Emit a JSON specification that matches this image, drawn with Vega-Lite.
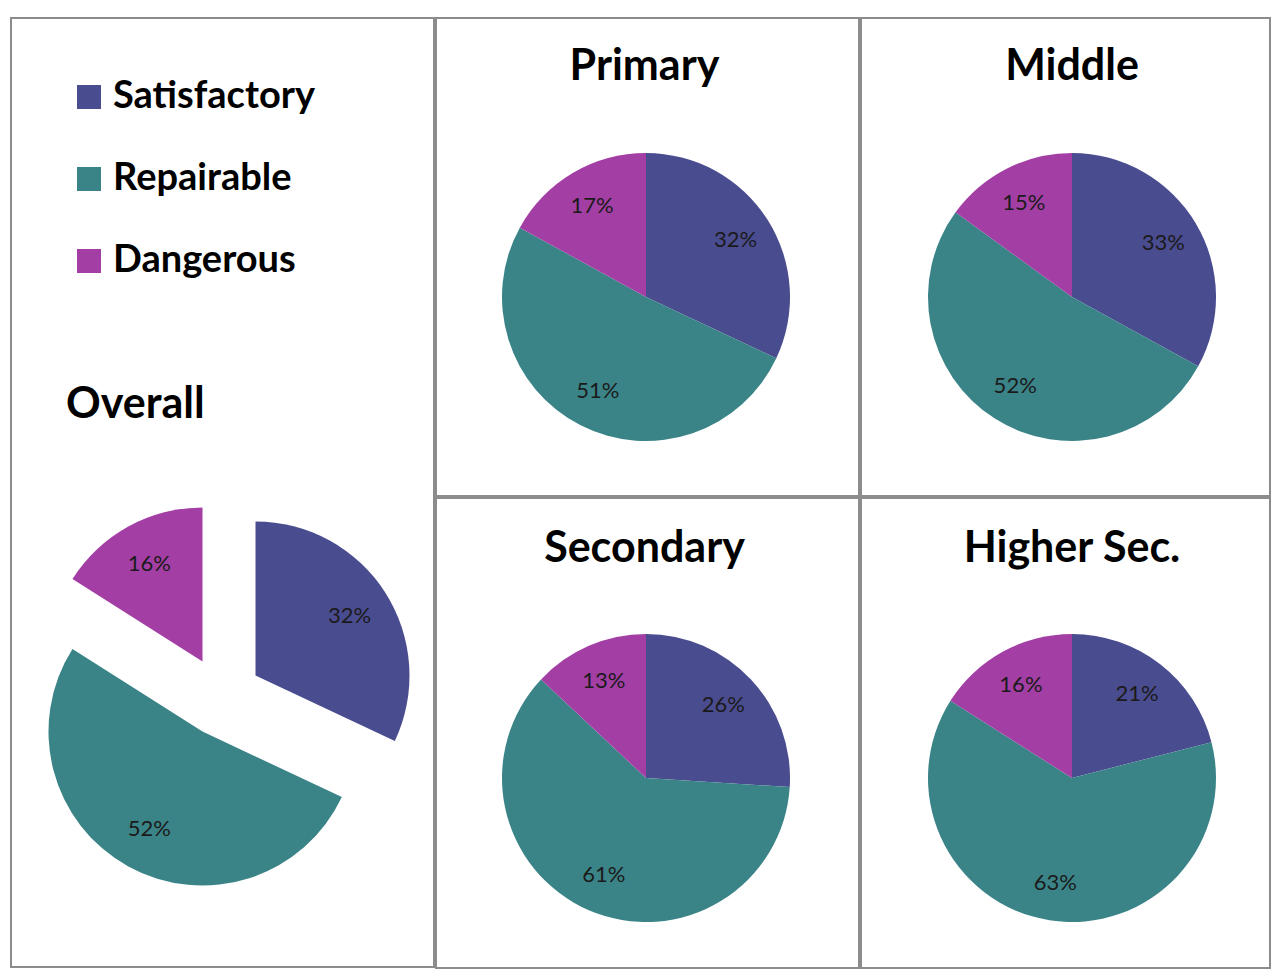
{
  "$schema": "https://vega.github.io/schema/vega-lite/v6.json",
  "background": "white",
  "padding": {"left": 10, "top": 17, "right": 0, "bottom": 0},
  "config": {
    "view": {"stroke": "#8c8c8c", "strokeWidth": 2},
    "concat": {"spacing": 0},
    "title": {"font": "Lato", "fontWeight": "bold", "fontSize": 43, "color": "black", "baseline": "alphabetic"},
    "legend": {
      "orient": "none", "legendX": 59, "legendY": 60,
      "symbolType": "square", "symbolSize": 576, "symbolStrokeWidth": 0, "symbolOpacity": 1,
      "labelFont": "Lato", "labelFontWeight": "bold", "labelFontSize": 38, "labelColor": "black",
      "labelOffset": 5, "rowPadding": 44, "padding": 0, "labelLimit": 400
    }
  },
  "datasets": {
    "d": [
      {"level": "Overall", "category": "Satisfactory", "share": 0.32, "k": 1},
      {"level": "Overall", "category": "Repairable", "share": 0.52, "k": 2},
      {"level": "Overall", "category": "Dangerous", "share": 0.16, "k": 3},
      {"level": "Primary", "category": "Satisfactory", "share": 0.32, "k": 1},
      {"level": "Primary", "category": "Repairable", "share": 0.51, "k": 2},
      {"level": "Primary", "category": "Dangerous", "share": 0.17, "k": 3},
      {"level": "Middle", "category": "Satisfactory", "share": 0.33, "k": 1},
      {"level": "Middle", "category": "Repairable", "share": 0.52, "k": 2},
      {"level": "Middle", "category": "Dangerous", "share": 0.15, "k": 3},
      {"level": "Secondary", "category": "Satisfactory", "share": 0.26, "k": 1},
      {"level": "Secondary", "category": "Repairable", "share": 0.61, "k": 2},
      {"level": "Secondary", "category": "Dangerous", "share": 0.13, "k": 3},
      {"level": "Higher Sec.", "category": "Satisfactory", "share": 0.21, "k": 1},
      {"level": "Higher Sec.", "category": "Repairable", "share": 0.63, "k": 2},
      {"level": "Higher Sec.", "category": "Dangerous", "share": 0.16, "k": 3}
    ]
  },
  "data": {"name": "d"},
  "resolve": {"scale": {"color": "shared"}},
  "hconcat": [
    {
      "width": 423,
      "height": 949,
      "view": {"stroke": "#8c8c8c", "strokeWidth": 2},
      "title": {"text": "Overall", "anchor": "start", "dx": 55, "offset": -409},
      "transform": [
        {"filter": "datum.level === 'Overall'"},
        {"stack": "share", "groupby": [], "sort": [{"field": "k", "order": "ascending"}], "as": ["t0", "t1"]}
      ],
      "layer": [
        {
          "transform": [{"filter": "datum.category === 'Satisfactory'"}],
          "mark": {"type": "arc", "outerRadius": 154, "xOffset": 33, "yOffset": 183},
          "encoding": {
            "theta": {"field": "t0", "type": "quantitative", "scale": {"domain": [0, 1]}},
            "theta2": {"field": "t1"},
            "color": {"field": "category", "type": "nominal", "title": null, "scale": {"domain": ["Satisfactory", "Repairable", "Dangerous"], "range": ["#4a4c90", "#3a8488", "#a33fa4"]}}
          }
        },
        {
          "transform": [{"filter": "datum.category === 'Repairable'"}],
          "mark": {"type": "arc", "outerRadius": 154, "xOffset": -20, "yOffset": 239},
          "encoding": {
            "theta": {"field": "t0", "type": "quantitative", "scale": {"domain": [0, 1]}},
            "theta2": {"field": "t1"},
            "color": {"field": "category", "type": "nominal", "title": null, "scale": {"domain": ["Satisfactory", "Repairable", "Dangerous"], "range": ["#4a4c90", "#3a8488", "#a33fa4"]}}
          }
        },
        {
          "transform": [{"filter": "datum.category === 'Dangerous'"}],
          "mark": {"type": "arc", "outerRadius": 154, "xOffset": -20, "yOffset": 169},
          "encoding": {
            "theta": {"field": "t0", "type": "quantitative", "scale": {"domain": [0, 1]}},
            "theta2": {"field": "t1"},
            "color": {"field": "category", "type": "nominal", "title": null, "scale": {"domain": ["Satisfactory", "Repairable", "Dangerous"], "range": ["#4a4c90", "#3a8488", "#a33fa4"]}}
          }
        },
        {
          "mark": {"type": "text", "radius": 151, "xOffset": -0.5, "yOffset": 204, "font": "Lato", "fontSize": 22, "color": "#1a1a1a"},
          "encoding": {
            "theta": {"field": "share", "type": "quantitative", "stack": true, "scale": {"domain": [0, 1]}},
            "order": {"field": "k", "type": "quantitative"},
            "text": {"field": "share", "type": "quantitative", "format": ".0%"}
          }
        }
      ]
    },
    {
      "vconcat": [
        {
          "hconcat": [
            {
              "width": 423, "height": 478,
              "view": {"stroke": "#8c8c8c", "strokeWidth": 2},
              "title": {"text": "Primary", "dx": -3, "offset": -71},
              "transform": [{"filter": "datum.level === 'Primary'"}],
              "encoding": {
                "theta": {"field": "share", "type": "quantitative", "stack": true, "scale": {"domain": [0, 1]}},
                "order": {"field": "k", "type": "quantitative"},
                "color": {"field": "category", "type": "nominal", "title": null, "scale": {"domain": ["Satisfactory", "Repairable", "Dangerous"], "range": ["#4a4c90", "#3a8488", "#a33fa4"]}}
              },
              "layer": [
                {"mark": {"type": "arc", "outerRadius": 144, "xOffset": -1.5, "yOffset": 40}},
                {"mark": {"type": "text", "radius": 106, "xOffset": -1.5, "yOffset": 40, "font": "Lato", "fontSize": 22},
                 "encoding": {"color": {"value": "#1a1a1a"}, "text": {"field": "share", "type": "quantitative", "format": ".0%"}}}
              ]
            },
            {
              "width": 409, "height": 478,
              "view": {"stroke": "#8c8c8c", "strokeWidth": 2},
              "title": {"text": "Middle", "dx": 6.5, "offset": -71},
              "transform": [{"filter": "datum.level === 'Middle'"}],
              "encoding": {
                "theta": {"field": "share", "type": "quantitative", "stack": true, "scale": {"domain": [0, 1]}},
                "order": {"field": "k", "type": "quantitative"},
                "color": {"field": "category", "type": "nominal", "title": null, "scale": {"domain": ["Satisfactory", "Repairable", "Dangerous"], "range": ["#4a4c90", "#3a8488", "#a33fa4"]}}
              },
              "layer": [
                {"mark": {"type": "arc", "outerRadius": 144, "xOffset": 6.5, "yOffset": 40}},
                {"mark": {"type": "text", "radius": 106, "xOffset": 6.5, "yOffset": 40, "font": "Lato", "fontSize": 22},
                 "encoding": {"color": {"value": "#1a1a1a"}, "text": {"field": "share", "type": "quantitative", "format": ".0%"}}}
              ]
            }
          ]
        },
        {
          "hconcat": [
            {
              "width": 423, "height": 470,
              "view": {"stroke": "#8c8c8c", "strokeWidth": 2},
              "title": {"text": "Secondary", "dx": -3, "offset": -73},
              "transform": [{"filter": "datum.level === 'Secondary'"}],
              "encoding": {
                "theta": {"field": "share", "type": "quantitative", "stack": true, "scale": {"domain": [0, 1]}},
                "order": {"field": "k", "type": "quantitative"},
                "color": {"field": "category", "type": "nominal", "title": null, "scale": {"domain": ["Satisfactory", "Repairable", "Dangerous"], "range": ["#4a4c90", "#3a8488", "#a33fa4"]}}
              },
              "layer": [
                {"mark": {"type": "arc", "outerRadius": 144, "xOffset": -1.5, "yOffset": 45}},
                {"mark": {"type": "text", "radius": 106, "xOffset": -1.5, "yOffset": 45, "font": "Lato", "fontSize": 22},
                 "encoding": {"color": {"value": "#1a1a1a"}, "text": {"field": "share", "type": "quantitative", "format": ".0%"}}}
              ]
            },
            {
              "width": 409, "height": 470,
              "view": {"stroke": "#8c8c8c", "strokeWidth": 2},
              "title": {"text": "Higher Sec.", "dx": 6.5, "offset": -73},
              "transform": [{"filter": "datum.level === 'Higher Sec.'"}],
              "encoding": {
                "theta": {"field": "share", "type": "quantitative", "stack": true, "scale": {"domain": [0, 1]}},
                "order": {"field": "k", "type": "quantitative"},
                "color": {"field": "category", "type": "nominal", "title": null, "scale": {"domain": ["Satisfactory", "Repairable", "Dangerous"], "range": ["#4a4c90", "#3a8488", "#a33fa4"]}}
              },
              "layer": [
                {"mark": {"type": "arc", "outerRadius": 144, "xOffset": 6.5, "yOffset": 45}},
                {"mark": {"type": "text", "radius": 106, "xOffset": 6.5, "yOffset": 45, "font": "Lato", "fontSize": 22},
                 "encoding": {"color": {"value": "#1a1a1a"}, "text": {"field": "share", "type": "quantitative", "format": ".0%"}}}
              ]
            }
          ]
        }
      ]
    }
  ]
}
